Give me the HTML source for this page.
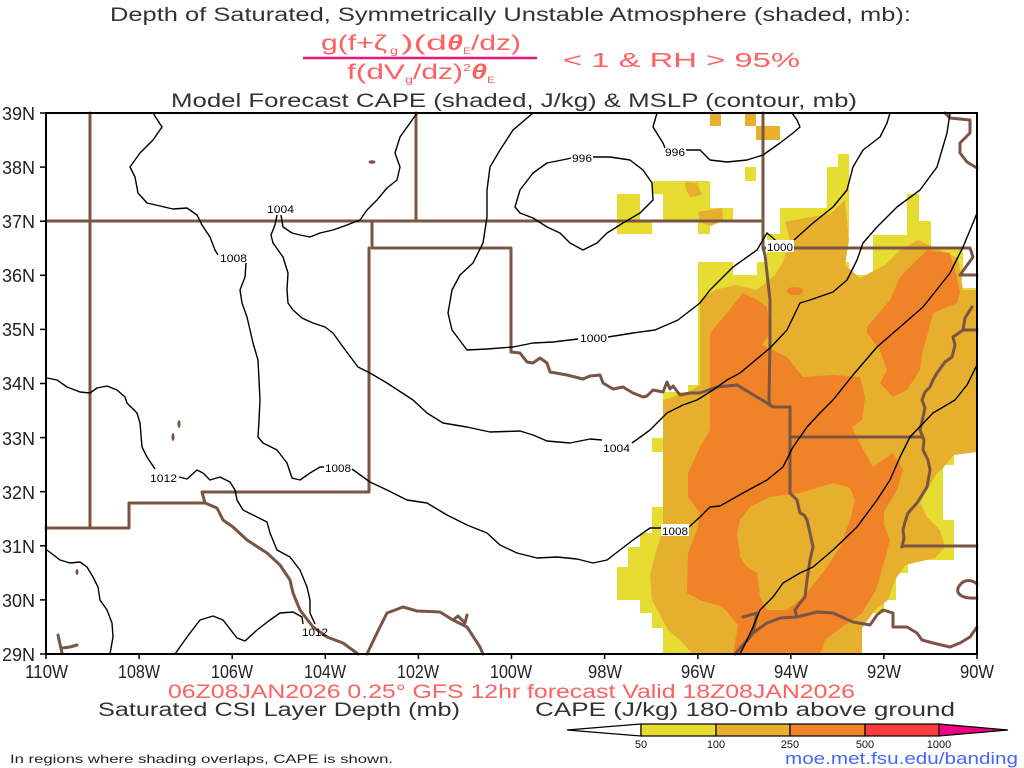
<!DOCTYPE html>
<html><head><meta charset="utf-8"><style>
html,body{margin:0;padding:0;background:#fff;}
svg{display:block;}
text{font-family:"Liberation Sans",sans-serif;}
</style></head><body>
<svg width="1024" height="768" viewBox="0 0 1024 768" xmlns="http://www.w3.org/2000/svg">
<rect width="1024" height="768" fill="#fff"/>

<!-- Titles -->
<text x="110" y="21" font-size="19" fill="#333" textLength="801" lengthAdjust="spacingAndGlyphs">Depth of Saturated, Symmetrically Unstable Atmosphere (shaded, mb):</text>
<g fill="#ff6060">
<text x="321" y="50" font-size="21" textLength="66" lengthAdjust="spacingAndGlyphs">g(f+ζ</text>
<text x="390" y="54" font-size="10" textLength="8" lengthAdjust="spacingAndGlyphs">g</text>
<text x="401" y="50" font-size="21" textLength="46" lengthAdjust="spacingAndGlyphs">)(d</text>
<text x="447" y="50" font-size="21" font-weight="bold" font-style="italic" textLength="16" lengthAdjust="spacingAndGlyphs">θ</text>
<text x="463" y="54" font-size="9" textLength="8" lengthAdjust="spacingAndGlyphs">E</text>
<text x="471" y="50" font-size="21" textLength="50" lengthAdjust="spacingAndGlyphs">/dz)</text>
<text x="347" y="79" font-size="21" textLength="58" lengthAdjust="spacingAndGlyphs">f(dV</text>
<text x="405" y="83" font-size="10" textLength="8" lengthAdjust="spacingAndGlyphs">g</text>
<text x="413" y="79" font-size="21" textLength="50" lengthAdjust="spacingAndGlyphs">/dz)</text>
<text x="463" y="71" font-size="10" textLength="8" lengthAdjust="spacingAndGlyphs">2</text>
<text x="471" y="79" font-size="21" font-weight="bold" font-style="italic" textLength="16" lengthAdjust="spacingAndGlyphs">θ</text>
<text x="487" y="83" font-size="9" textLength="8" lengthAdjust="spacingAndGlyphs">E</text>
<text x="563" y="67" font-size="20" textLength="237" lengthAdjust="spacingAndGlyphs">&lt; 1 &amp; RH &gt; 95%</text>
</g>
<line x1="303" y1="58" x2="537" y2="58" stroke="#e8157f" stroke-width="2.5"/>
<text x="171" y="107" font-size="19" fill="#333" textLength="686" lengthAdjust="spacingAndGlyphs">Model Forecast CAPE (shaded, J/kg) &amp; MSLP (contour, mb)</text>

<!-- CAPE shading -->
<g stroke="none">
<polygon fill="#e6dc32" points="698,262 733,262 733,275 757,275 757,262 767,262 767,234 780,234 780,208 827,208 827,167 838,167 838,154 849,154 849,234 838,234 838,262 849,262 849,275 873,275 873,235 907,235 907,194 919,194 919,221 931,221 931,247 963,247 963,275 960,288 977,288 977,452 954,452 954,465 943,465 943,520 954,520 954,560 908,560 908,573 896,573 896,600 884,600 884,613 873,613 862,627 862,654 663,654 663,628 652,628 652,613 640,613 640,600 617,600 617,567 628,567 628,547 640,547 640,533 652,533 652,507 663,507 663,452 652,452 652,438 663,438 663,392 688,392 688,385 698,385"/>
<polygon fill="#e6af2d" points="663,400 688,392 700,385 700,300 715,290 735,285 757,290 775,275 783,262 790,240 785,222 805,218 830,214 845,200 849,240 845,265 860,278 885,265 900,250 918,240 935,248 958,258 963,290 977,290 977,452 954,455 943,468 937,473 920,503 927,517 940,530 945,547 935,558 905,565 895,580 888,600 875,610 862,628 862,654 693,654 680,640 668,630 660,615 652,600 650,575 655,555 663,530"/>
<polygon fill="#f08228" points="710,333 727,313 743,293 757,300 767,307 770,333 762,345 787,357 803,377 833,375 860,377 865,397 862,420 852,427 858,440 873,467 893,453 903,470 897,490 884,512 884,525 890,540 884,562 876,590 862,613 842,627 825,640 820,654 733,654 738,625 723,607 700,600 687,593 688,553 697,530 700,513 688,497 688,473 700,447 710,430"/>
<polygon fill="#e6af2d" points="770,497 800,493 833,483 850,488 855,500 850,520 840,547 827,567 817,580 803,597 787,610 767,610 760,597 757,573 747,567 740,557 737,533 740,520 750,507"/>
<polygon fill="#f08228" points="927,250 950,253 957,277 960,293 957,303 933,313 928,333 922,353 920,370 907,390 893,397 880,383 887,370 880,350 867,333 867,327 890,300 900,277"/>
<ellipse cx="795" cy="291" rx="8" ry="4" fill="#f08228"/>
<!-- small northern blocks -->
<rect x="710" y="113" width="11" height="13" fill="#e6af2d"/>
<rect x="745" y="113" width="11" height="13" fill="#e6af2d"/>
<rect x="756" y="126" width="24" height="14" fill="#e6af2d"/>
<rect x="745" y="167" width="11" height="14" fill="#e6dc32"/>
<rect x="617" y="194" width="23" height="40" fill="#e6dc32"/>
<rect x="640" y="221" width="12" height="13" fill="#e6dc32"/>
<rect x="652" y="181" width="11" height="13" fill="#e6dc32"/>
<rect x="663" y="181" width="47" height="40" fill="#e6dc32"/>
<rect x="710" y="208" width="23" height="13" fill="#e6dc32"/>
<rect x="698" y="221" width="12" height="13" fill="#e6dc32"/>
<polygon fill="#e6af2d" points="685,182 697,183 702,195 690,197 686,190"/>
<polygon fill="#e6af2d" points="698,212 722,208 723,221 710,226 700,222"/>
</g>

<!-- Political boundaries -->
<g fill="none" stroke="#7a5544" stroke-width="3" stroke-linejoin="round" stroke-linecap="round">
<polyline points="46,221 763,221"/>
<polyline points="90,113 90,528"/>
<polyline points="46,528 129,528 129,503 205,503 202,492 369,492 369,248"/>
<polyline points="372,221 372,248 511,248 511,352"/>
<polyline points="416,113 416,221"/>
<polyline points="763,113 763,248 765,255 770,300 770,340 769,400 770,405"/>
<polyline points="763,248 970,248 973,257 960,275 977,275"/>
<polyline points="511,352 520,353 527,362 533,363 540,358 547,363 550,372 567,375 583,379 590,376 600,375 603,383 613,389 623,387 633,393 643,397 647,396 653,390 663,392 667,382 670,389 673,386 680,395 690,393 700,393 717,387 737,385 767,403 773,407 790,407"/>
<polyline points="790,407 790,493"/>
<polyline points="790,437 922,437"/>
<polyline points="790,493 797,500 800,513 804,515 807,520 810,533 813,547 810,560 807,580 805,597 800,603 795,610 797,617"/>
<polyline points="735,654 743,645 753,633 767,623 780,618 797,617 817,612 833,613 853,622 870,625 877,615 883,610 893,613 893,627 907,627 917,633 922,640 933,643 950,647 960,643 970,637 977,627"/>
<polyline points="743,617 757,613 753,633 747,641"/>
<path d="M977,584 C970,578 962,580 958,588 C956,595 964,599 977,598"/>
<polyline points="972,307 965,318 963,330 953,337 955,345 952,357 945,362 937,373 933,380 930,387 925,392 922,400 925,408 923,417 920,430 924,440 923,450 928,460 930,470 927,487 922,495 917,503 908,513 905,522 903,530 904,538 902,547"/>
<polyline points="963,330 977,330"/>
<polyline points="902,546 977,546"/>
<polyline points="945,113 950,118 970,120 970,133 960,143 960,153 967,162 977,168"/>
<polyline points="205,503 217,508 223,520 233,527 247,540 267,553 280,565 290,580 293,593 300,610 313,627 327,637 343,643 358,654"/>
<polyline points="367,654 377,633 387,613 403,607 417,611 440,612 453,620 467,627 480,647 483,654"/>
<polyline points="453,620 458,616 465,623 467,615"/>
<polyline points="58,635 62,653"/>
<polyline points="62,648 70,647 77,645"/>
</g>
<g fill="#7a5544">
<ellipse cx="372" cy="162" rx="3.5" ry="1.8"/>
<ellipse cx="179" cy="424" rx="1.5" ry="4"/>
<ellipse cx="173" cy="437" rx="1.5" ry="4"/>
<ellipse cx="77" cy="572" rx="1.5" ry="3"/>
</g>

<!-- MSLP contours -->
<g fill="none" stroke="#000" stroke-width="1.4" stroke-linejoin="round">
<polyline points="153,113 162,127 153,140 140,153 130,167 135,177 138,193 147,203 160,206 173,209 187,208 197,215 202,225 210,237 215,250 218,255"/>
<polyline points="246,263 245,277 240,290 242,303 247,317 253,343 258,360 260,400 259,420 258,437 263,443 277,450 287,463 292,478 300,480 310,473 320,467 324,467"/>
<polyline points="352,469 370,482 387,490 407,500 427,503 447,515 467,525 487,533 500,545 517,553 537,558 557,557 577,559 593,563 607,560 620,550 633,540 650,528 661,528"/>
<polyline points="689,527 700,517 710,507 720,506 743,493 767,480 783,467 793,447 807,427 820,413 833,400 853,375 877,347 900,327 923,307 950,273 963,247 973,223 977,213"/>
<polyline points="417,113 410,123 400,137 395,153 400,167 397,180 387,188 377,200 367,210 360,220 347,225 333,230 320,233 310,237 300,235 292,233 283,227 281,215"/>
<polyline points="277,215 275,225 271,235 273,243 283,257 288,273 287,290 288,303 293,310 302,318 313,323 325,327 333,333 343,347 358,367 370,373 387,383 413,400 427,413 443,423 467,427 490,432 520,431 533,435 547,441 570,443 590,439 602,440"/>
<polyline points="632,443 650,430 667,413 683,405 697,400 713,390 727,380 740,373 770,348 787,330 800,303 810,300 833,292 847,280 857,260 863,243 877,227 897,207 920,190 937,167 947,133 950,113"/>
<polyline points="533,113 513,130 500,150 490,167 487,190 487,217 483,243 473,263 460,275 452,290 448,313 452,330 467,350 487,349 513,347 533,343 553,342 578,339"/>
<polyline points="608,337 633,333 655,330 678,320 700,303 710,290 733,267 757,250 767,233 773,238 776,241"/>
<polyline points="794,240 813,223 833,207 847,190 853,167 863,150 880,137 887,123 890,113"/>
<polyline points="593,157 610,157 630,160 643,170 652,183 653,200 640,213 623,223 607,233 597,243 583,250 570,243 560,233 547,227 533,218 520,213 515,207 520,190 533,173 547,163 567,159 571,158"/>
<polyline points="657,113 653,127 663,143 665,148"/>
<polyline points="686,150 700,150 710,160 727,162 747,160 763,155 780,143 793,133 800,127 797,120 792,113"/>
<polyline points="47,378 57,380 67,387 80,392 90,393 97,388 107,386 117,390 125,397 127,403 137,413 140,423 142,447 147,457 155,469"/>
<polyline points="179,477 187,479 197,470 203,473 210,480 220,477 230,482 235,490 237,500 243,510 257,517 267,522 270,533 277,550 290,557 300,570 307,587 310,600 310,613 315,624"/>
<polyline points="303,624 302,617 293,612 280,613 270,620 257,630 245,641 237,638 223,620 213,616 200,620 187,637 175,654"/>
<polyline points="47,550 60,560 70,563 80,562 87,567 93,577 98,587 100,600 107,610 112,623 113,637 110,654"/>
<polyline points="977,365 967,385 955,400 933,413 910,437 900,457 890,480 877,500 857,527 833,550 813,567 800,573 783,583 773,597 760,610 753,627 747,640 740,654"/>
</g>
<rect x="766" y="240" width="28" height="12" fill="#fff"/>
<rect x="661" y="524" width="28" height="12" fill="#fff"/>
<g font-size="11" fill="#000">
<text x="267" y="213" textLength="27" lengthAdjust="spacingAndGlyphs">1004</text>
<text x="220" y="262" textLength="27" lengthAdjust="spacingAndGlyphs">1008</text>
<text x="150" y="482" textLength="27" lengthAdjust="spacingAndGlyphs">1012</text>
<text x="325" y="472" textLength="26" lengthAdjust="spacingAndGlyphs">1008</text>
<text x="302" y="636" textLength="26" lengthAdjust="spacingAndGlyphs">1012</text>
<text x="572" y="162" textLength="20" lengthAdjust="spacingAndGlyphs">996</text>
<text x="580" y="342" textLength="27" lengthAdjust="spacingAndGlyphs">1000</text>
<text x="665" y="156" textLength="20" lengthAdjust="spacingAndGlyphs">996</text>
<text x="767" y="251" textLength="26" lengthAdjust="spacingAndGlyphs">1000</text>
<text x="603" y="452" textLength="27" lengthAdjust="spacingAndGlyphs">1004</text>
<text x="662" y="535" textLength="26" lengthAdjust="spacingAndGlyphs">1008</text>
</g>

<!-- Frame & ticks -->
<rect x="46" y="113" width="931" height="541" fill="none" stroke="#000" stroke-width="2"/>
<g stroke="#000" stroke-width="1.5">
<line x1="40" y1="113" x2="46" y2="113"/><line x1="40" y1="167.1" x2="46" y2="167.1"/><line x1="40" y1="221.2" x2="46" y2="221.2"/><line x1="40" y1="275.3" x2="46" y2="275.3"/><line x1="40" y1="329.4" x2="46" y2="329.4"/><line x1="40" y1="383.5" x2="46" y2="383.5"/><line x1="40" y1="437.6" x2="46" y2="437.6"/><line x1="40" y1="491.7" x2="46" y2="491.7"/><line x1="40" y1="545.8" x2="46" y2="545.8"/><line x1="40" y1="599.9" x2="46" y2="599.9"/><line x1="40" y1="654" x2="46" y2="654"/>
<line x1="46" y1="654" x2="46" y2="659"/><line x1="139.1" y1="654" x2="139.1" y2="659"/><line x1="232.2" y1="654" x2="232.2" y2="659"/><line x1="325.3" y1="654" x2="325.3" y2="659"/><line x1="418.4" y1="654" x2="418.4" y2="659"/><line x1="511.5" y1="654" x2="511.5" y2="659"/><line x1="604.6" y1="654" x2="604.6" y2="659"/><line x1="697.9" y1="654" x2="697.9" y2="659"/><line x1="790.8" y1="654" x2="790.8" y2="659"/><line x1="883.9" y1="654" x2="883.9" y2="659"/><line x1="977" y1="654" x2="977" y2="659"/>
</g>
<g font-size="18" fill="#222">
<text x="2" y="120" textLength="33" lengthAdjust="spacingAndGlyphs">39N</text>
<text x="2" y="174" textLength="33" lengthAdjust="spacingAndGlyphs">38N</text>
<text x="2" y="228" textLength="33" lengthAdjust="spacingAndGlyphs">37N</text>
<text x="2" y="282" textLength="33" lengthAdjust="spacingAndGlyphs">36N</text>
<text x="2" y="336" textLength="33" lengthAdjust="spacingAndGlyphs">35N</text>
<text x="2" y="390" textLength="33" lengthAdjust="spacingAndGlyphs">34N</text>
<text x="2" y="445" textLength="33" lengthAdjust="spacingAndGlyphs">33N</text>
<text x="2" y="499" textLength="33" lengthAdjust="spacingAndGlyphs">32N</text>
<text x="2" y="553" textLength="33" lengthAdjust="spacingAndGlyphs">31N</text>
<text x="2" y="607" textLength="33" lengthAdjust="spacingAndGlyphs">30N</text>
<text x="2" y="661" textLength="33" lengthAdjust="spacingAndGlyphs">29N</text>
</g>
<g font-size="18" fill="#222">
<text x="25" y="678" textLength="43" lengthAdjust="spacingAndGlyphs">110W</text>
<text x="118" y="678" textLength="42" lengthAdjust="spacingAndGlyphs">108W</text>
<text x="211" y="678" textLength="42" lengthAdjust="spacingAndGlyphs">106W</text>
<text x="304" y="678" textLength="42" lengthAdjust="spacingAndGlyphs">104W</text>
<text x="397" y="678" textLength="42" lengthAdjust="spacingAndGlyphs">102W</text>
<text x="490" y="678" textLength="42" lengthAdjust="spacingAndGlyphs">100W</text>
<text x="588" y="678" textLength="34" lengthAdjust="spacingAndGlyphs">98W</text>
<text x="681" y="678" textLength="34" lengthAdjust="spacingAndGlyphs">96W</text>
<text x="774" y="678" textLength="34" lengthAdjust="spacingAndGlyphs">94W</text>
<text x="867" y="678" textLength="34" lengthAdjust="spacingAndGlyphs">92W</text>
<text x="960" y="678" textLength="34" lengthAdjust="spacingAndGlyphs">90W</text>
</g>

<!-- Bottom text -->
<text x="168" y="698" font-size="19" fill="#ff6060" textLength="687" lengthAdjust="spacingAndGlyphs">06Z08JAN2026 0.25° GFS 12hr forecast Valid 18Z08JAN2026</text>
<text x="98" y="716" font-size="19" fill="#333" textLength="362" lengthAdjust="spacingAndGlyphs">Saturated CSI Layer Depth (mb)</text>
<text x="535" y="716" font-size="19" fill="#333" textLength="420" lengthAdjust="spacingAndGlyphs">CAPE (J/kg) 180-0mb above ground</text>
<text x="10" y="763" font-size="12" fill="#222" textLength="383" lengthAdjust="spacingAndGlyphs">In regions where shading overlaps, CAPE is shown.</text>
<text x="785" y="764" font-size="17" fill="#4466ff" textLength="233" lengthAdjust="spacingAndGlyphs">moe.met.fsu.edu/banding</text>

<!-- Colorbar -->
<g stroke="#000" stroke-width="1.2">
<polygon points="567,730 641,724 641,736" fill="#fff"/>
<rect x="641" y="724" width="75" height="12" fill="#e6dc32"/>
<rect x="716" y="724" width="74" height="12" fill="#e6af2d"/>
<rect x="790" y="724" width="75" height="12" fill="#f08228"/>
<rect x="865" y="724" width="74" height="12" fill="#fa3c3c"/>
<polygon points="939,724 1008,730 939,736" fill="#f00082"/>
</g>
<g font-size="11" fill="#111" text-anchor="middle">
<text x="641" y="748">50</text>
<text x="716" y="748">100</text>
<text x="790" y="748">250</text>
<text x="865" y="748">500</text>
<text x="939" y="748">1000</text>
</g>
</svg>
</body></html>
